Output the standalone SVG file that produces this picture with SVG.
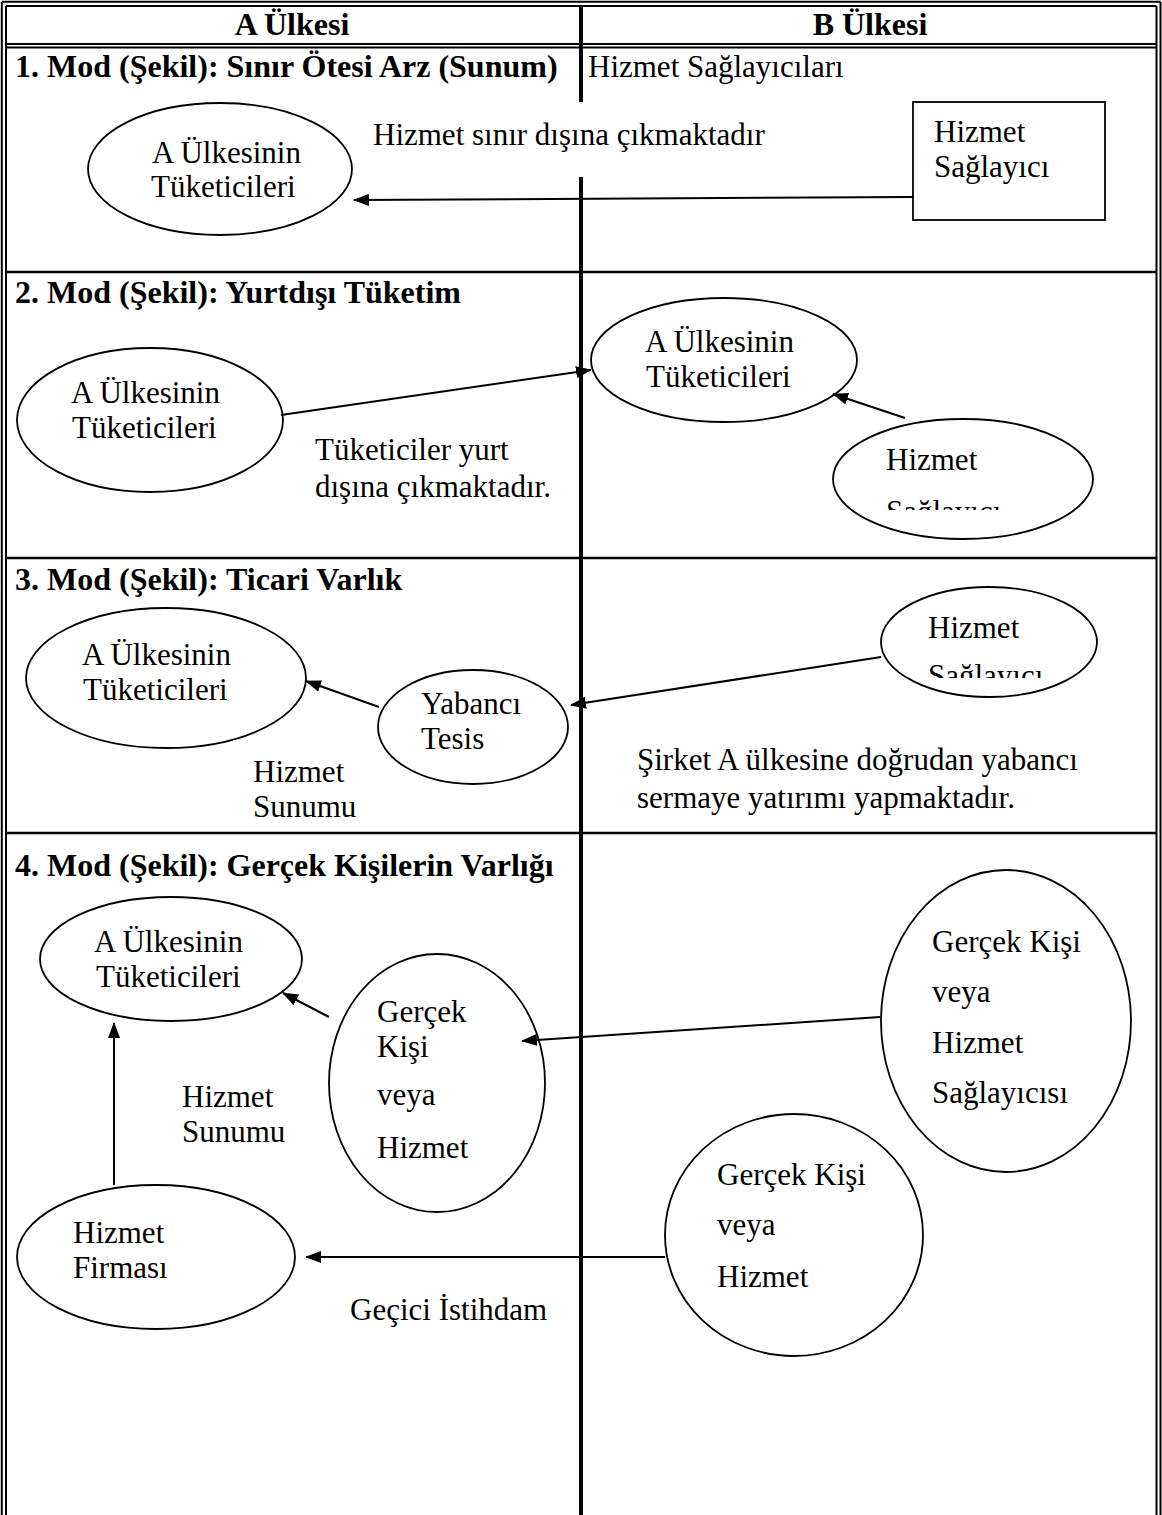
<svg xmlns="http://www.w3.org/2000/svg" width="1162" height="1515" viewBox="0 0 1162 1515">
<defs>
<style>
text{font-family:"Liberation Serif","Times New Roman",serif;font-size:31px;fill:#000}
.b{font-weight:bold;font-size:32px}
.n{fill:#fff;stroke:#000;stroke-width:1.8}
.c{fill:none;stroke:#000;stroke-width:2;marker-end:url(#ah)}
.g{stroke:#000;fill:none}
.w2{stroke-width:2}
.w25{stroke-width:2.5}
.w4{stroke-width:4}
</style>
<marker id="ah" markerUnits="userSpaceOnUse" viewBox="0 0 16 12" refX="15" refY="6" markerWidth="16" markerHeight="12" orient="auto"><path d="M0,0L16,6L0,12z" fill="#000"/></marker>
<clipPath id="clip2"><rect x="830" y="410" width="270" height="100"/></clipPath>
<clipPath id="clip3"><rect x="870" y="580" width="240" height="98"/></clipPath>
</defs>
<rect width="1162" height="1515" fill="#fff"/>
<g id="table" class="g">
<line class="w2" x1="1.8" y1="1.8" x2="1.8" y2="1515"/>
<line class="w2" x1="6" y1="6" x2="6" y2="1515"/>
<line class="w2" x1="1160.5" y1="1.8" x2="1160.5" y2="1515"/>
<line class="w2" x1="1156.5" y1="6" x2="1156.5" y2="1515"/>
<line class="w2" x1="1.8" y1="1.8" x2="1160.5" y2="1.8"/>
<line class="w2" x1="6" y1="6" x2="1156.5" y2="6"/>
<line class="w2" x1="6" y1="44" x2="1156.5" y2="44"/>
<line class="w2" x1="6" y1="47.5" x2="1156.5" y2="47.5"/>
<line class="w25" x1="6" y1="272" x2="1156.5" y2="272"/>
<line class="w25" x1="6" y1="558" x2="1156.5" y2="558"/>
<line class="w25" x1="6" y1="833" x2="1156.5" y2="833"/>
<line class="w4" x1="581" y1="6" x2="581" y2="102"/>
<line class="w4" x1="581" y1="177" x2="581" y2="1515"/>
</g>
<g id="headers">
<text class="b" x="292" y="35" text-anchor="middle">A Ülkesi</text>
<text class="b" x="870" y="35" text-anchor="middle">B Ülkesi</text>
<text class="b" x="15" y="77">1. Mod (Şekil): Sınır Ötesi Arz (Sunum)</text>
<text x="588" y="77">Hizmet Sağlayıcıları</text>
<text class="b" x="15" y="303">2. Mod (Şekil): Yurtdışı Tüketim</text>
<text class="b" x="15" y="590">3. Mod (Şekil): Ticari Varlık</text>
<text class="b" x="15" y="876">4. Mod (Şekil): Gerçek Kişilerin Varlığı</text>
</g>
<g id="m1-consumers"><ellipse class="n" cx="220" cy="169" rx="132" ry="66"/><text x="152" y="163">A Ülkesinin</text><text x="151" y="197">Tüketicileri</text></g>
<g id="m1-label"><text x="373" y="145">Hizmet sınır dışına çıkmaktadır</text></g>
<g id="m1-provider"><rect class="n" x="913" y="102" width="192" height="118"/><text x="934" y="142">Hizmet</text><text x="934" y="177">Sağlayıcı</text></g>

<g id="m2-consumers-a"><ellipse class="n" cx="150" cy="420" rx="133" ry="72"/><text x="71" y="403">A Ülkesinin</text><text x="72" y="438">Tüketicileri</text></g>
<g id="m2-consumers-b"><ellipse class="n" cx="724" cy="360" rx="133" ry="62"/><text x="645" y="352">A Ülkesinin</text><text x="646" y="387">Tüketicileri</text></g>
<g id="m2-label"><text x="315" y="460">Tüketiciler yurt</text><text x="315" y="497">dışına çıkmaktadır.</text></g>
<g id="m2-provider"><ellipse class="n" cx="963" cy="479" rx="130" ry="60"/><g clip-path="url(#clip2)"><text x="886" y="470">Hizmet</text><text x="886" y="522">Sağlayıcı</text></g></g>

<g id="m3-consumers"><ellipse class="n" cx="166" cy="678" rx="140" ry="70"/><text x="82" y="665">A Ülkesinin</text><text x="83" y="700">Tüketicileri</text></g>
<g id="m3-facility"><ellipse class="n" cx="473" cy="727" rx="95" ry="57"/><text x="421" y="714">Yabancı</text><text x="421" y="749">Tesis</text></g>
<g id="m3-label-a"><rect x="233" y="740" width="90" height="14" fill="#fff"/><text x="253" y="782">Hizmet</text><text x="253" y="817">Sunumu</text></g>
<g id="m3-provider"><ellipse class="n" cx="989" cy="642" rx="108" ry="55"/><g clip-path="url(#clip3)"><text x="928" y="638">Hizmet</text><text x="928" y="686">Sağlayıcı</text></g></g>
<g id="m3-label-b"><text x="637" y="770">Şirket A ülkesine doğrudan yabancı</text><text x="637" y="808">sermaye yatırımı yapmaktadır.</text></g>

<g id="m4-consumers"><ellipse class="n" cx="171" cy="959" rx="131" ry="62"/><text x="94" y="952">A Ülkesinin</text><text x="96" y="987">Tüketicileri</text></g>
<g id="m4-person-a"><ellipse class="n" cx="437" cy="1083" rx="108" ry="129"/><text x="377" y="1022">Gerçek</text><text x="377" y="1057">Kişi</text><text x="377" y="1105">veya</text><text x="377" y="1158">Hizmet</text></g>
<g id="m4-person-b"><ellipse class="n" cx="1006" cy="1021" rx="125" ry="151"/><text x="932" y="952">Gerçek Kişi</text><text x="932" y="1002">veya</text><text x="932" y="1053">Hizmet</text><text x="932" y="1103">Sağlayıcısı</text></g>
<g id="m4-person-c"><ellipse class="n" cx="794" cy="1235" rx="129" ry="121"/><text x="717" y="1185">Gerçek Kişi</text><text x="717" y="1235">veya</text><text x="717" y="1287">Hizmet</text></g>
<g id="m4-firm"><ellipse class="n" cx="156" cy="1257" rx="139" ry="72"/><text x="73" y="1243">Hizmet</text><text x="73" y="1278">Firması</text></g>
<g id="m4-label-a"><text x="182" y="1107">Hizmet</text><text x="182" y="1142">Sunumu</text></g>
<g id="m4-label-b"><text x="350" y="1320">Geçici İstihdam</text></g>

<g id="connectors">
<line class="c" x1="913" y1="197" x2="354" y2="200"/>
<line class="c" x1="281" y1="415" x2="591" y2="370"/>
<line class="c" x1="905" y1="418" x2="833" y2="394"/>
<line class="c" x1="379" y1="707" x2="306" y2="681"/>
<line class="c" x1="881" y1="657" x2="571" y2="705"/>
<line class="c" x1="329" y1="1017" x2="283" y2="993"/>
<line class="c" x1="880" y1="1017" x2="522" y2="1041"/>
<line class="c" x1="665" y1="1257" x2="306" y2="1257"/>
<line class="c" x1="114" y1="1185" x2="114" y2="1023"/>
</g>
</svg>
